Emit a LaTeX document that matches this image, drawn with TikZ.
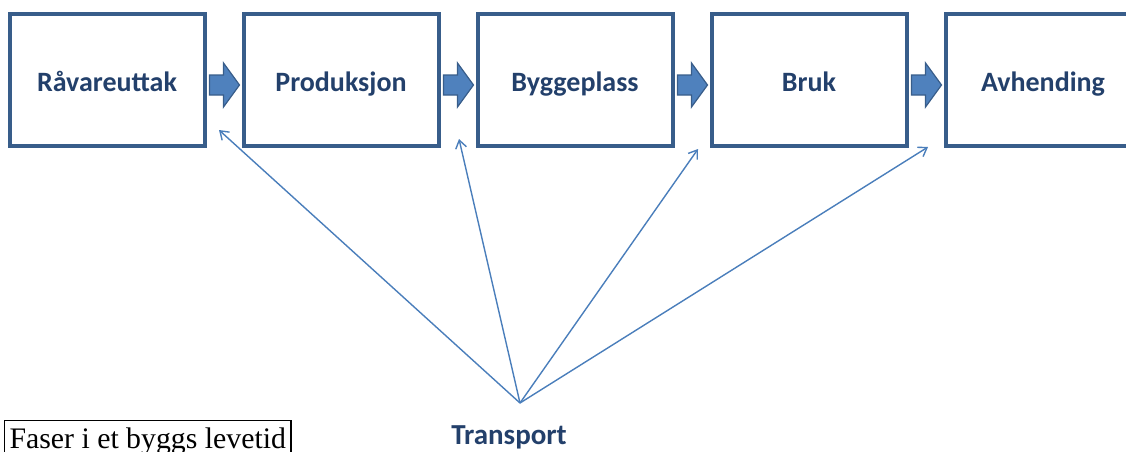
\documentclass[tikz,border=0pt]{standalone}
\usepackage{fontspec}
\setmainfont{Liberation Serif}
\newfontfamily\calfont{Carlito}
\usepackage{xcolor}
\usetikzlibrary{arrows.meta}
\usetikzlibrary{calc}
\definecolor{boxblue}{HTML}{385D8A}
\definecolor{fillblue}{HTML}{4F81BD}
\definecolor{lineblue}{HTML}{4A7EBB}
\definecolor{textblue}{HTML}{23406B}
\begin{document}
\begin{tikzpicture}[x=1pt, y=-1pt,
    phase/.style={draw=boxblue, line width=4pt, minimum width=195pt, minimum height=131.5pt,
      text=textblue, font=\calfont\bfseries\fontsize{28}{30}\selectfont, text height=28pt, text depth=5pt},
    flowarrow/.style={draw=boxblue, fill=fillblue, line width=1.2pt, line join=miter},
    transportline/.style={draw=lineblue, line width=1.4pt, -{Straight Barb[length=8pt, width=11pt]}}]
  \clip (0,0) rectangle (1126,452);
  \node[phase] (raw) at (107,79.75) {Råvareuttak};
  \node[phase] (prod) at (341,79.75) {Produksjon};
  \node[phase] (site) at (575,79.75) {Byggeplass};
  \node[phase] (use) at (809,79.75) {Bruk};
  \node[phase] (disp) at (1043,79.75) {Avhending};

  % block arrows between the phases
  \foreach \a in {raw, prod, site, use}
    \draw[flowarrow] ($(\a.east)+(3,-4.75)$) -- ++(14,0) -- ++(0,-12) -- ++(16,22)
      -- ++(-16,22) -- ++(0,-12) -- ++(-14,0) -- cycle;

  \node[text=textblue, font=\calfont\bfseries\fontsize{29}{30}\selectfont, anchor=base] (transport) at (509,444) {Transport};
  \coordinate (hub) at (520,403);
  \coordinate (t1) at (219,130);
  \coordinate (t2) at (459,139);
  \coordinate (t3) at (698,149);
  \coordinate (t4) at (928,147);
  \foreach \t in {t1, t2, t3, t4}
    \draw[transportline] (hub) -- (\t);

  \node[draw, line width=1.1pt, anchor=north west, inner xsep=5pt, inner ysep=7pt,
    font=\fontsize{29.8}{32}\selectfont] (caption) at (4,420) {Faser i et byggs levetid};
\end{tikzpicture}
\end{document}
